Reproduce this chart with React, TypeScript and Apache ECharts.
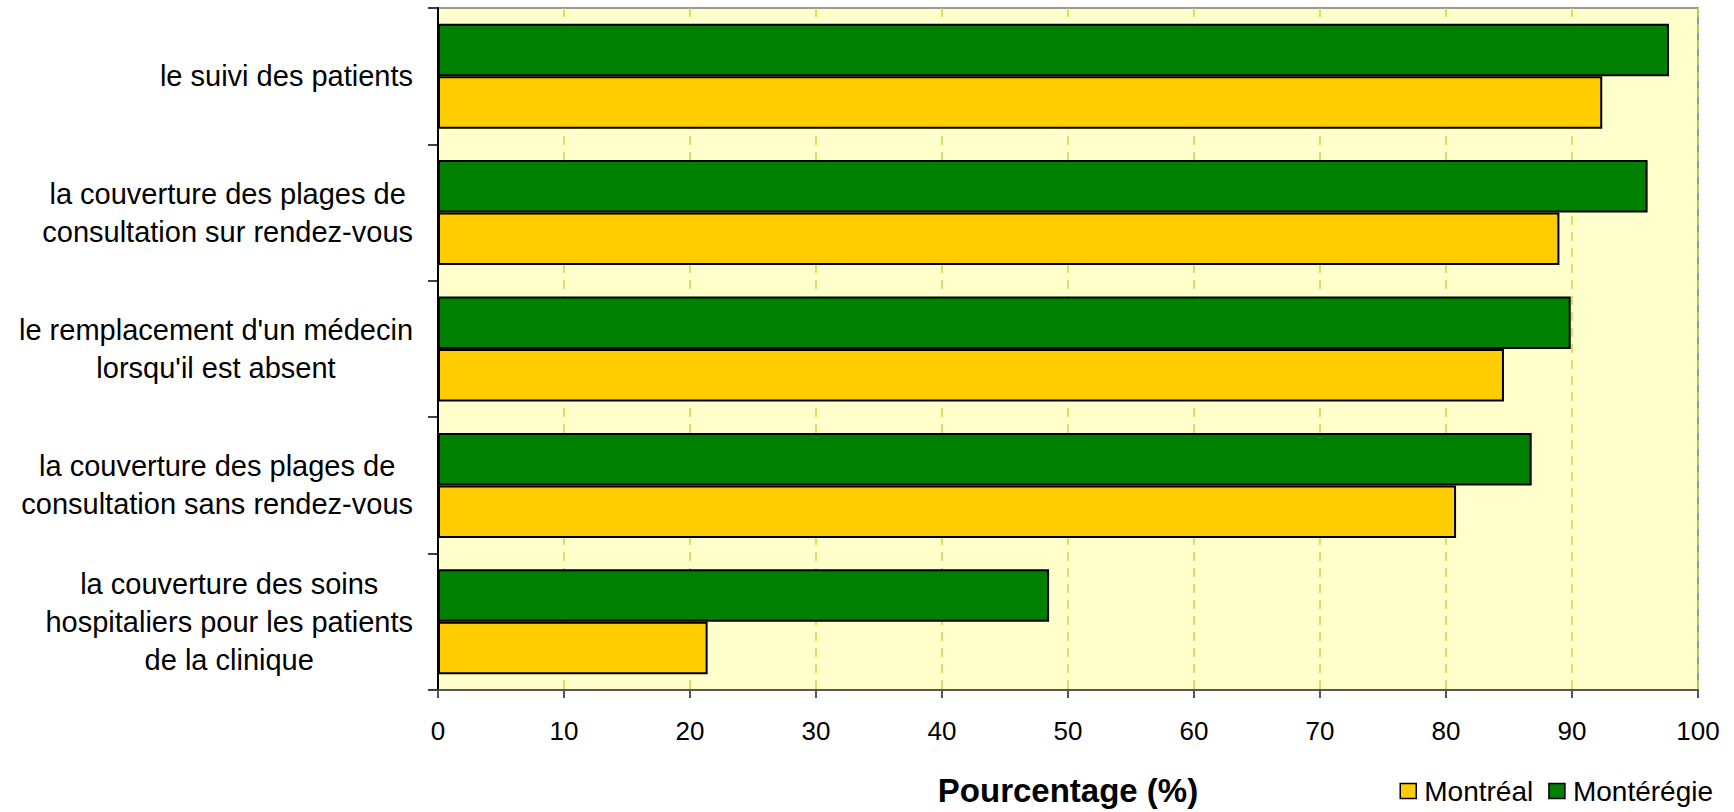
import React, { useEffect, useRef } from "react";
import * as echarts from "echarts";

const categories = [
  "le suivi des patients",
  "la couverture des plages de\nconsultation sur rendez-vous",
  "le remplacement d'un médecin\nlorsqu'il est absent",
  "la couverture des plages de\nconsultation sans rendez-vous",
  "la couverture des soins\nhospitaliers pour les patients\nde la clinique",
];
const monteregie = [97.7, 96.0, 89.9, 86.8, 48.5];
const montreal = [92.4, 89.0, 84.6, 80.8, 21.4];
const xTicks = { min: 0, max: 100, interval: 10 };
const seriesNames = { montreal: "Montréal", monteregie: "Montérégie" };
const axisTitle = "Pourcentage (%)";

export default function App() {
  const ref = useRef<HTMLDivElement>(null);
  useEffect(() => {
    document.body.style.margin = "0";
    const chart = echarts.init(ref.current!, null, { renderer: "svg" });
    const font = "Liberation Sans, Arial, sans-serif";
    chart.setOption({
      animation: false,
      backgroundColor: "#ffffff",
      textStyle: { fontFamily: font },
      grid: {
        left: 438,
        right: 36,
        top: 8,
        bottom: 120,
        show: true,
        backgroundColor: "#FFFFCC",
        borderColor: "#999999",
        borderWidth: 2,
      },
      legend: {
        right: 16,
        top: 772,
        icon: "rect",
        itemWidth: 16,
        itemHeight: 15,
        itemGap: 15,
        data: [
          { name: seriesNames.montreal, itemStyle: { color: "#FFCC00", borderColor: "#000", borderWidth: 1.5 } },
          { name: seriesNames.monteregie, itemStyle: { color: "#008000", borderColor: "#000", borderWidth: 1.5 } },
        ],
        textStyle: { fontFamily: font, fontSize: 28, color: "#000", padding: [0, 0, 0, 3] },
      },
      xAxis: {
        type: "value",
        min: xTicks.min,
        max: xTicks.max,
        interval: xTicks.interval,
        name: axisTitle,
        nameLocation: "middle",
        nameGap: 84,
        nameTextStyle: { fontFamily: font, fontSize: 33, fontWeight: "bold", color: "#000" },
        axisLine: { show: true, lineStyle: { color: "#555", width: 2 } },
        axisTick: { show: true, length: 8, lineStyle: { color: "#555", width: 2 } },
        axisLabel: { fontFamily: font, fontSize: 26, color: "#000", margin: 28 },
        splitLine: { show: true, lineStyle: { color: "#BEDC46", width: 1.5, type: [9, 7] } },
      },
      yAxis: {
        type: "category",
        inverse: true,
        data: categories,
        axisLine: { show: true, lineStyle: { color: "#000", width: 2 } },
        axisTick: { show: true, length: 10, lineStyle: { color: "#000", width: 1.5 } },
        axisLabel: {
          margin: 25,
          align: "right",
          formatter: (v: string) => v.split("\n").map((l) => "{c|" + l + "}").join("\n"),
          rich: { c: { fontFamily: font, fontSize: 29, lineHeight: 38, color: "#000", align: "center" } },
        },
        splitLine: { show: false },
      },
      series: [
        {
          name: seriesNames.monteregie,
          type: "bar",
          data: monteregie,
          barGap: "0%",
          barCategoryGap: "23%",
          itemStyle: { color: "#008000", borderColor: "#000", borderWidth: 2 },
        },
        {
          name: seriesNames.montreal,
          type: "bar",
          data: montreal,
          barGap: "0%",
          barCategoryGap: "23%",
          itemStyle: { color: "#FFCC00", borderColor: "#000", borderWidth: 2 },
        },
      ],
    });
    return () => chart.dispose();
  }, []);
  return <div ref={ref} style={{ width: 1734, height: 812 }} />;
}
